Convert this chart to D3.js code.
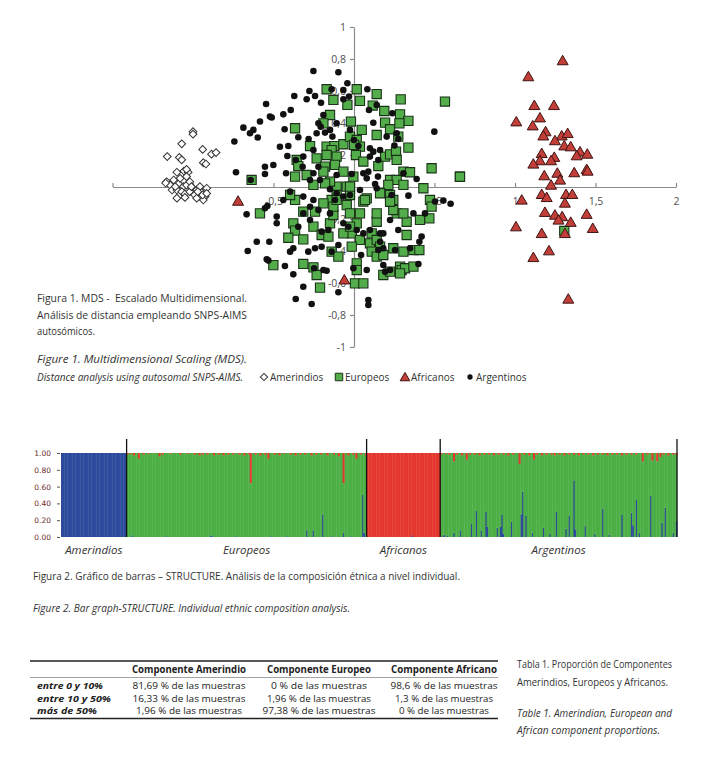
<!DOCTYPE html>
<html><head><meta charset="utf-8">
<script src="https://cdn.jsdelivr.net/npm/d3@7/dist/d3.min.js"></script>
<style>body{margin:0;background:#fff}svg{display:block;font-family:"Open Sans",sans-serif}</style>
</head><body>
<script>
// ---------- Figure 1 data (MDS) ----------
const amerindios = [[-1.00,0.346],[-1.00,0.33],[-1.07,0.27],[-0.94,0.235],[-1.16,0.19],[-1.085,0.185],[-1.07,0.17],[-0.885,0.205],[-0.857,0.215],[-0.936,0.152],[-0.92,0.144],[-1.10,0.092],[-1.056,0.10],[-1.03,0.092],[-1.04,0.11],[-1.163,0.033],[-1.143,0.0125],[-1.12,0.044],[-1.09,0.02],[-1.06,0.002],[-1.04,0.012],[-1.02,0.033],[-1.00,-0.008],[-0.977,-0.019],[-0.957,0.002],[-0.915,-0.008],[-1.13,-0.019],[-1.10,-0.019],[-1.07,-0.029],[-1.05,-0.044],[-1.02,-0.029],[-0.99,-0.05],[-0.946,-0.035],[-0.925,-0.06],[-1.10,-0.07],[-1.05,-0.065],[-0.977,-0.07],[-0.936,-0.081],[-1.17,0.025],[-1.01,0.002],[-0.97,-0.029],[-0.94,-0.05],[-0.915,-0.04],[-1.11,0.002],[-1.08,0.054],[-1.04,0.065]];
const europeos = [[-0.170,0.611],[0.017,0.611],[0.141,0.581],[-0.128,0.544],[-0.041,0.513],[0.037,0.538],[0.290,0.548],[0.116,0.509],[0.188,0.475],[0.286,0.454],[0.338,0.413],[0.193,0.402],[-0.149,0.450],[-0.190,0.398],[-0.019,0.409],[0.048,0.357],[0.141,0.325],[0.224,0.361],[0.282,0.398],[0.275,0.315],[-0.366,0.367],[-0.273,0.256],[-0.170,0.252],[-0.122,0.256],[-0.066,0.267],[-0.025,0.315],[0.017,0.294],[0.037,0.252],[0.000,0.263],[-0.139,0.231],[-0.170,0.200],[-0.108,0.190],[0.012,0.200],[0.058,0.159],[0.193,0.190],[0.224,0.204],[0.261,0.221],[0.338,0.246],[0.151,0.131],[0.265,0.169],[0.307,0.096],[0.348,0.092],[0.482,0.117],[0.658,0.065],[0.431,-0.008],[-0.356,0.169],[-0.346,0.131],[-0.232,0.179],[-0.180,0.127],[-0.190,0.096],[-0.118,0.138],[-0.066,0.096],[-0.004,0.065],[-0.045,0.002],[-0.108,0.002],[-0.149,0.034],[-0.180,0.023],[-0.252,0.013],[-0.294,0.075],[-0.366,0.065],[-0.636,0.044],[0.224,0.044],[0.265,0.044],[0.307,0.013],[0.213,0.013],[0.162,-0.039],[0.224,-0.050],[0.244,-0.081],[0.472,-0.081],[0.079,-0.071],[0.058,-0.091],[-0.025,-0.050],[-0.025,0.002],[-0.108,-0.050],[-0.139,-0.081],[-0.366,-0.081],[-0.397,-0.050],[0.565,0.534],
[-0.315,-0.154],[-0.242,-0.154],[-0.377,-0.227],[-0.366,-0.273],[-0.408,-0.317],[-0.315,-0.327],[-0.252,-0.248],[-0.201,-0.300],[-0.159,-0.310],[-0.149,-0.227],[-0.128,-0.175],[-0.128,-0.123],[-0.190,-0.102],[-0.108,-0.081],[-0.045,-0.113],[-0.025,-0.165],[0.037,-0.165],[0.017,-0.227],[-0.014,-0.290],[0.037,-0.331],[-0.014,-0.373],[0.110,-0.290],[0.099,-0.352],[0.141,-0.331],[0.162,-0.373],[0.110,-0.404],[0.141,-0.435],[0.182,-0.425],[0.244,-0.383],[0.307,-0.404],[0.369,-0.394],[0.406,-0.394],[0.182,-0.550],[0.224,-0.529],[0.286,-0.498],[0.296,-0.519],[0.317,-0.508],[0.369,-0.498],[0.286,-0.540],[0.327,-0.300],[0.327,-0.217],[0.265,-0.165],[0.244,-0.144],[0.141,-0.217],[0.141,-0.165],[0.068,-0.081],[0.224,-0.092],[0.307,-0.165],[0.410,-0.206],[0.468,-0.196],[0.482,-0.123],[-0.501,-0.488],[-0.315,-0.481],[-0.252,-0.502],[-0.232,-0.550],[-0.139,-0.404],[-0.097,-0.435],[0.017,-0.477],[0.017,-0.519],[0.006,-0.602],[0.058,-0.602],[-0.211,-0.629],[-0.584,-0.165],[-0.066,-0.290],[-0.025,-0.248],[0.658,0.064],[1.306,-0.275]];
const africanos = [[1.296,0.79],[1.083,0.69],[1.12,0.51],[1.242,0.51],[1.155,0.433],[1.008,0.408],[1.11,0.383],[1.19,0.346],[1.176,0.32],[1.29,0.32],[1.327,0.335],[1.248,0.29],[1.306,0.258],[1.346,0.252],[1.404,0.22],[1.383,0.196],[1.449,0.206],[1.166,0.21],[1.244,0.186],[1.224,0.165],[1.155,0.165],[1.114,0.144],[1.445,0.11],[1.451,0.10],[1.368,0.09],[1.263,0.087],[1.182,0.071],[1.28,0.044],[1.224,0.0125],[1.042,-0.081],[1.166,-0.046],[1.197,-0.065],[1.317,-0.046],[1.356,-0.046],[1.31,-0.10],[1.186,-0.158],[1.248,-0.175],[1.293,-0.185],[1.27,-0.206],[1.346,-0.22],[1.445,-0.17],[1.006,-0.248],[1.166,-0.29],[1.31,-0.29],[1.483,-0.258],[1.211,-0.398],[1.114,-0.44],[1.331,-0.70],[-0.72,-0.088],[-0.06,-0.58]];
const argentinos = [[-0.252,0.725],[-0.097,0.717],[-0.041,0.648],[-0.066,0.606],[-0.139,0.611],[-0.277,0.600],[-0.242,0.569],[-0.294,0.548],[-0.371,0.569],[-0.205,0.527],[0.083,0.611],[-0.066,0.548],[-0.031,0.565],[-0.546,0.519],[-0.522,0.440],[-0.511,0.434],[-0.393,0.481],[-0.439,0.454],[-0.584,0.409],[-0.625,0.357],[-0.646,0.336],[-0.598,0.309],[-0.687,0.371],[-0.743,0.284],[-0.431,0.361],[-0.221,0.398],[-0.190,0.450],[-0.207,0.377],[-0.180,0.340],[-0.232,0.336],[0.120,0.402],[0.093,0.481],[0.141,0.513],[0.238,0.461],[0.499,0.346],[0.265,0.336],[0.275,0.300],[-0.346,0.311],[-0.282,0.300],[-0.460,0.252],[-0.408,0.256],[-0.414,0.194],[-0.362,0.169],[-0.315,0.190],[-0.252,0.231],[-0.134,0.315],[-0.149,0.357],[-0.108,0.398],[-0.025,0.357],[0.000,0.294],[0.027,0.256],[0.099,0.242],[0.120,0.221],[0.162,0.231],[0.203,0.315],[0.251,0.259],[0.099,0.190],[0.151,0.169],[0.089,0.096],[0.079,0.054],[0.058,0.086],[-0.014,0.081],[-0.108,0.075],[-0.221,0.127],[-0.252,0.086],[-0.319,0.127],[-0.422,0.086],[-0.501,0.138],[-0.553,0.127],[-0.553,0.081],[-0.733,0.092],[-0.642,0.044],[-0.273,0.044],[-0.211,0.044],[-0.149,-0.014],[-0.108,-0.039],[-0.066,-0.060],[-0.025,-0.050],[0.037,-0.019],[0.141,-0.008],[0.149,0.065],[0.131,0.019],[0.234,-0.050],[0.307,0.086],[0.389,0.050],[0.338,-0.054],[0.503,-0.091],[0.555,-0.085],[-0.118,-0.081],[-0.252,-0.081],[-0.315,-0.060],[-0.397,-0.029],[-0.439,-0.081],
[-0.667,-0.171],[-0.553,-0.133],[-0.538,-0.119],[-0.480,-0.185],[-0.480,-0.227],[-0.315,-0.165],[-0.273,-0.123],[-0.221,-0.144],[-0.346,-0.248],[-0.159,-0.269],[-0.201,-0.279],[-0.066,-0.227],[-0.035,-0.248],[0.017,-0.269],[0.058,-0.290],[0.099,-0.269],[0.162,-0.290],[0.224,-0.206],[0.275,-0.269],[0.369,-0.165],[0.441,-0.165],[0.420,-0.310],[0.406,-0.342],[0.348,-0.383],[0.400,-0.481],[0.182,-0.290],[0.182,-0.383],[0.255,-0.394],[0.182,-0.488],[0.193,-0.529],[0.224,-0.519],[0.162,-0.342],[0.151,-0.394],[0.079,-0.519],[-0.004,-0.508],[0.044,-0.425],[-0.097,-0.363],[-0.139,-0.404],[-0.190,-0.519],[-0.170,-0.523],[-0.248,-0.508],[-0.284,-0.404],[-0.242,-0.383],[-0.377,-0.383],[-0.397,-0.404],[-0.429,-0.494],[-0.542,-0.452],[-0.532,-0.460],[-0.604,-0.342],[-0.526,-0.342],[-0.660,-0.400],[-0.377,-0.546],[-0.315,-0.623],[-0.263,-0.731],[-0.362,-0.700],[-0.097,-0.658],[0.089,-0.706],[0.089,-0.738],[-0.201,-0.373],[-0.149,-0.165],[-0.273,-0.206],[0.600,-0.105]];
const mdsXTicks = [-1.5,-1,-0.5,0,0.5,1,1.5,2];
const mdsXLabels = ["", "", "-0,5", "", "0,5", "1", "1,5", "2"];
const mdsYTicks = [-1,-0.8,-0.6,-0.4,-0.2,0,0.2,0.4,0.6,0.8,1];
const mdsYLabels = ["-1","-0,8","-0,6","-0,4","-0,2","0","0,2","0,4","0,6","0,8","1"];
const legendNames = ["Amerindios","Europeos","Africanos","Argentinos"];

// ---------- Figure 2 data (STRUCTURE): per-individual Amerindian (blue) and African (red) proportions ----------
const groupNames = ["Amerindios","Europeos","Africanos","Argentinos"];
const amerindiosBlue = [1,1,1,1,1,1,1,1,1,1, 1,1,1,1,1,1,1,1,1,1, 1,1,1,1,1,1,1,1,1,1, 1,1,1,1,1,1,1,1,1,1, 1];
const amerindiosRed  = [0,0,0,0,0,0,0,0,0,0, 0,0,0,0,0,0,0,0,0,0, 0,0,0,0,0,0,0,0,0,0, 0,0,0,0,0,0,0,0,0,0, 0];
const europeosBlue = [0,0,0,0.02,0,0,0,0,0,0, 0,0,0,0,0,0,0,0,0,0, 0,0,0,0,0.01,0,0,0,0,0, 0,0,0,0,0,0,0,0,0,0, 0,0,0,0,0,0,0,0,0,0,
 0,0,0.02,0.01,0,0,0,0,0,0, 0,0,0,0,0,0,0,0,0.01,0, 0,0,0,0,0,0,0,0,0,0, 0,0,0,0,0,0,0,0,0,0, 0.01,0,0,0,0,0,0,0,0,0,
 0.01,0,0,0,0,0,0,0,0,0, 0,0,0.08,0,0,0,0.08,0,0,0, 0,0,0.27,0,0,0,0,0,0.01,0, 0,0,0,0,0,0.05,0,0,0,0, 0.01,0,0,0,0,0,0,0.5,0.05,0];
const europeosRed = [0.02,0,0.01,0,0.03,0,0,0.07,0,0, 0.02,0,0,0.01,0,0,0,0,0,0, 0.04,0,0.02,0,0,0,0,0.01,0,0, 0,0,0,0.02,0,0,0,0,0.01,0, 0,0,0.02,0,0,0.03,0,0.02,0,0,
 0.02,0,0,0,0.03,0,0,0.02,0,0, 0.03,0,0,0.02,0,0,0.02,0,0,0, 0.02,0,0,0.03,0,0,0.02,0.36,0,0, 0.02,0,0,0.03,0,0,0.02,0,0.07,0, 0,0,0.02,0,0,0.03,0,0,0.01,0,
 0,0,0.02,0,0,0.03,0,0,0.02,0, 0,0.02,0,0,0,0.03,0,0,0.02,0, 0,0.02,0,0,0,0.03,0,0,0,0.02, 0,0,0.04,0,0,0.36,0,0,0.03,0, 0,0.02,0,0.07,0,0,0.02,0,0,0.03];
const africanosBlue = [0,0,0,0,0,0,0,0,0,0, 0,0,0,0,0,0,0,0,0,0, 0,0,0,0,0,0,0,0,0.02,0, 0,0,0,0,0,0,0,0,0,0, 0,0,0,0,0,0];
const africanosRed  = [1,1,1,1,1,1,1,1,1,1, 1,1,1,1,1,1,1,1,1,1, 1,1,1,1,1,1,1,1,0.98,1, 1,1,1,1,1,1,1,1,1,1, 1,1,1,1,1,1];
const argentinosBlue = [0,0.01,0.03,0,0.02,0,0,0,0.05,0, 0,0,0.08,0,0,0,0,0,0,0.155, 0,0,0.31,0,0,0.08,0,0,0.30,0.12, 0,0,0,0,0,0.11,0,0.12,0.27,0.04, 0,0,0,0,0.18,0,0,0,0,0,
 0.27,0.54,0,0.25,0,0,0,0.05,0,0, 0,0,0,0,0.11,0,0,0,0.04,0, 0,0,0.30,0,0,0,0,0,0.10,0, 0.25,0,0,0.675,0.09,0,0,0,0,0, 0.13,0,0,0,0,0,0.04,0,0,0,
 0,0.34,0,0,0,0.03,0,0,0,0, 0,0,0,0.27,0,0,0,0,0,0.29, 0.14,0,0.44,0,0.05,0,0,0,0,0, 0,0.49,0,0,0,0,0,0,0.17,0, 0.35,0,0,0,0,0.05,0,0.19];
const argentinosRed = [0.02,0,0,0.01,0,0.02,0,0,0.10,0, 0.02,0,0,0.03,0,0,0.08,0,0.02,0, 0,0.02,0,0,0.03,0,0,0.02,0,0, 0.02,0,0,0.03,0,0,0.02,0,0,0.02, 0,0,0.03,0,0,0.02,0,0,0,0.13,
 0,0,0.02,0,0,0.03,0,0,0.08,0, 0.02,0,0,0.03,0,0,0.02,0,0,0.02, 0,0.03,0,0,0.02,0,0,0.03,0,0, 0.02,0,0,0.02,0,0,0.03,0,0,0.02, 0,0,0.02,0,0,0.03,0,0,0.02,0,
 0,0.02,0,0,0.03,0,0,0.02,0,0, 0.02,0,0,0.03,0,0,0.02,0,0,0.02, 0,0,0.02,0,0,0,0.10,0,0,0.02, 0,0,0.09,0,0,0.10,0,0.05,0,0.02, 0,0,0.03,0,0,0.02,0,0.02];
const structureTicks = [0,0.2,0.4,0.6,0.8,1];

// ---------- Table data ----------
const tableHeaders = ["Componente Amerindio","Componente Europeo","Componente Africano"];
const tableRowLabels = ["entre 0 y 10%","entre 10 y 50%","más de 50%"];
const colAmerindio = ["81,69 % de las muestras","16,33 % de las muestras","1,96 % de las muestras"];
const colEuropeo = ["0 % de las muestras","1,96 % de las muestras","97,38 % de las muestras"];
const colAfricano = ["98,6 % de las muestras","1,3 % de las muestras","0 % de las muestras"];

const svg = d3.select("body").append("svg").attr("width",707).attr("height",768);

// ================= Figure 1 =================
const x = d3.scaleLinear().domain([-1.5,2]).range([112.5,676]);
const y = d3.scaleLinear().domain([-1,1]).range([347,27]);
const axisColor = "#8a8a8a";

const gx = svg.append("g").attr("transform",`translate(0,${y(0)})`)
  .call(d3.axisBottom(x).tickValues(mdsXTicks).tickSize(-4).tickSizeOuter(0).tickPadding(11)
    .tickFormat((d,i)=>mdsXLabels[i]));
const gy = svg.append("g").attr("transform",`translate(${x(0)},0)`)
  .call(d3.axisLeft(y).tickValues(mdsYTicks).tickSize(4).tickSizeOuter(0).tickPadding(4)
    .tickFormat((d,i)=>mdsYLabels[i]));
[gx,gy].forEach(g=>{
  g.select(".domain").attr("stroke",axisColor).attr("stroke-width",1.2);
  g.selectAll(".tick line").attr("stroke",axisColor).attr("stroke-width",1.2);
  g.selectAll("text").attr("fill","#505050").style("font-size","10.5px").style("font-family","Open Sans");
});

const symSquare = d3.symbol().type(d3.symbolSquare).size(85)();
const symDiamond = d3.symbol().type(d3.symbolSquare).size(30)();
const symTri = d3.symbol().type(d3.symbolTriangle).size(52)();
const symDot = d3.symbol().type(d3.symbolCircle).size(34)();

svg.append("g").selectAll("path").data(amerindios).join("path")
  .attr("d",symDiamond).attr("transform",d=>`translate(${x(d[0])},${y(d[1])}) rotate(45)`)
  .attr("fill","#fff").attr("stroke","#333").attr("stroke-width",1);
svg.append("g").selectAll("path").data(europeos).join("path")
  .attr("d",symSquare).attr("transform",d=>`translate(${x(d[0])},${y(d[1])})`)
  .attr("fill","#52ad4a").attr("stroke","#1a3318").attr("stroke-width",1.1);
svg.append("g").selectAll("path").data(africanos).join("path")
  .attr("d",symTri).attr("transform",d=>`translate(${x(d[0])},${y(d[1])+1})`)
  .attr("fill","#c23e38").attr("stroke","#3d1412").attr("stroke-width",1);
svg.append("g").selectAll("path").data(argentinos).join("path")
  .attr("d",symDot).attr("transform",d=>`translate(${x(d[0])},${y(d[1])})`)
  .attr("fill","#111");

// caption figure 1
const cap = svg.append("g").attr("fill","#333").style("font-size","10.5px");
function tline(g, txt, xx, yy, w, italic){
  const t = g.append("text").attr("x",xx).attr("y",yy).attr("xml:space","preserve").style("white-space","pre").text(txt);
  if (w) t.attr("textLength",w).attr("lengthAdjust","spacingAndGlyphs");
  if (italic) t.style("font-style","italic");
  return t;
}
tline(cap,"Figura 1. MDS -  Escalado Multidimensional.",37,302,210);
tline(cap,"Análisis de distancia empleando SNPS-AIMS",37,319,210);
tline(cap,"autosómicos.",37,335,58);
tline(cap,"Figure 1. Multidimensional Scaling (MDS).",37,363,210,true);
tline(cap,"Distance analysis using autosomal SNPS-AIMS.",37,381,206,true);

// legend
const legX = [264, 339, 405, 470];
const leg = svg.append("g");
const legSyms = [
  g=>g.append("path").attr("d",d3.symbol().type(d3.symbolSquare).size(26)()).attr("transform","rotate(45)").attr("fill","#fff").attr("stroke","#333"),
  g=>g.append("path").attr("d",d3.symbol().type(d3.symbolSquare).size(56)()).attr("fill","#52ad4a").attr("stroke","#1a3318"),
  g=>g.append("path").attr("d",d3.symbol().type(d3.symbolTriangle).size(40)()).attr("transform","translate(0,1)").attr("fill","#c23e38").attr("stroke","#3d1412"),
  g=>g.append("path").attr("d",d3.symbol().type(d3.symbolCircle).size(22)()).attr("fill","#111")
];
legendNames.forEach((n,i)=>{
  const g = leg.append("g").attr("transform",`translate(${legX[i]},377)`);
  legSyms[i](g);
  g.append("text").attr("x",6).attr("y",3.5).attr("fill","#333").style("font-size","10px").text(n);
});

// ================= Figure 2 =================
const groups = [
  {name:groupNames[0], blue:amerindiosBlue, red:amerindiosRed},
  {name:groupNames[1], blue:europeosBlue, red:europeosRed},
  {name:groupNames[2], blue:africanosBlue, red:africanosRed},
  {name:groupNames[3], blue:argentinosBlue, red:argentinosRed}
];
const indiv = [];
const starts = [];
groups.forEach(g=>{
  starts.push(indiv.length);
  g.blue.forEach((b,i)=>indiv.push({idx:indiv.length, blue:b, red:g.red[i], green:Math.max(0,1-b-g.red[i])}));
});
const xb = d3.scaleBand().domain(indiv.map(d=>d.idx)).range([61,677]).padding(0);
const yb = d3.scaleLinear().domain([0,1]).range([537,453]);
const stack = d3.stack().keys(["blue","green","red"])(indiv);
const colors = {blue:"#2d4a9c", green:"#4caf45", red:"#e4382e"};
svg.append("g").selectAll("g").data(stack).join("g").attr("fill",s=>colors[s.key])
  .selectAll("rect").data(s=>s).join("rect")
  .attr("x",d=>xb(d.data.idx)).attr("width",xb.bandwidth()+0.4)
  .attr("y",d=>yb(d[1])).attr("height",d=>Math.max(0,yb(d[0])-yb(d[1])));

const gby = svg.append("g").attr("transform","translate(60,0)")
  .call(d3.axisLeft(yb).tickValues(structureTicks).tickSize(3).tickPadding(6).tickFormat(d3.format(".2f")));
gby.select(".domain").remove();
gby.selectAll(".tick line").attr("stroke","#555");
gby.selectAll("text").attr("fill","#6a2a2a").style("font-size","7.5px").style("font-family","DejaVu Sans");

const bounds = starts.slice(1).concat([indiv.length]);
svg.append("g").selectAll("line").data(bounds).join("line")
  .attr("x1",d=>d<indiv.length?xb(d):677).attr("x2",d=>d<indiv.length?xb(d):677)
  .attr("y1",439).attr("y2",yb(0)).attr("stroke","#111").attr("stroke-width",1.3);

const labStarts = starts.concat([indiv.length]);
svg.append("g").selectAll("text").data(groupNames).join("text")
  .attr("x",(d,i)=>{const a=xb(labStarts[i]); const b=labStarts[i+1]<indiv.length?xb(labStarts[i+1]):677; return (a+b)/2;})
  .attr("y",554).attr("text-anchor","middle").attr("fill","#333")
  .style("font-size","11.5px").style("font-style","italic").text(d=>d);

const cap2 = svg.append("g").attr("fill","#333").style("font-size","10px");
tline(cap2,"Figura 2. Gráfico de barras – STRUCTURE. Análisis de la composición étnica a nivel individual.",33,580,427);
tline(cap2,"Figure 2. Bar graph-STRUCTURE. Individual ethnic composition analysis.",33,612,317,true);

// ================= Table =================
const colCenters = [189, 319, 444];
const tbl = svg.append("g").attr("fill","#222");
tbl.append("line").attr("x1",30).attr("x2",498).attr("y1",661).attr("y2",661).attr("stroke","#222").attr("stroke-width",1.6);
tbl.append("line").attr("x1",30).attr("x2",498).attr("y1",677.5).attr("y2",677.5).attr("stroke","#666").attr("stroke-width",0.6);
tbl.append("line").attr("x1",30).attr("x2",498).attr("y1",718.5).attr("y2",718.5).attr("stroke","#222").attr("stroke-width",1.6);
tableHeaders.forEach((h,i)=>{
  tbl.append("text").attr("x",colCenters[i]).attr("y",673).attr("text-anchor","middle").style("font-size","10px")
    .style("font-weight","bold").attr("textLength",[114,104,106][i]).attr("lengthAdjust","spacingAndGlyphs").text(h);
});
const rowY = [689, 701.5, 714];
const cols = [colAmerindio, colEuropeo, colAfricano];
const colWidths = [[113,113,106],[96,104,113],[107,98,90]];
const labelWidths = [66,74,60];
tableRowLabels.forEach((r,j)=>{
  tbl.append("text").attr("x",37).attr("y",rowY[j]).style("font-size","9px").style("font-weight","bold").style("font-style","italic")
    .attr("textLength",labelWidths[j]).attr("lengthAdjust","spacingAndGlyphs").text(r);
  cols.forEach((c,i)=>{
    tbl.append("text").attr("x",colCenters[i]).attr("y",rowY[j]).attr("text-anchor","middle").style("font-size","9px")
      .attr("textLength",colWidths[i][j]).attr("lengthAdjust","spacingAndGlyphs").text(c[j]);
  });
});

const cap3 = svg.append("g").attr("fill","#333").style("font-size","10px");
tline(cap3,"Tabla 1. Proporción de Componentes",517,668,155);
tline(cap3,"Amerindios, Europeos y Africanos.",517,686,151);
tline(cap3,"Table 1. Amerindian, European and",517,717,155,true);
tline(cap3,"African component proportions.",517,734,143,true);
</script>
</body></html>
